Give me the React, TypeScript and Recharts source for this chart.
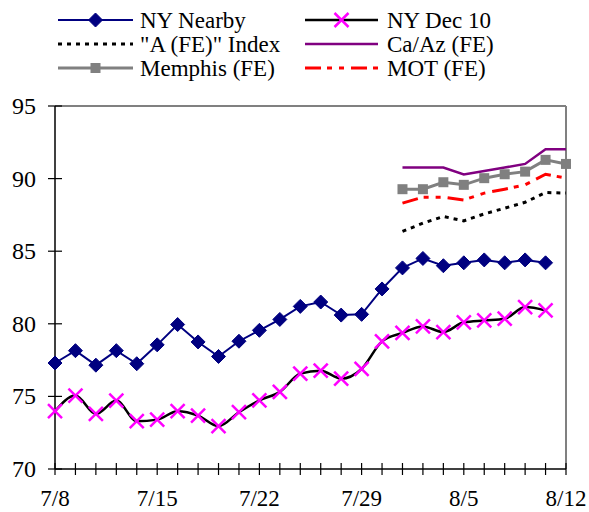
import React from "react";
import { LineChart, Line, XAxis, YAxis, ReferenceLine } from "recharts";

// weekday dates, 7/8 to 8/12
const dates = [
  "7/8", "7/9", "7/10", "7/11", "7/12",
  "7/15", "7/16", "7/17", "7/18", "7/19",
  "7/22", "7/23", "7/24", "7/25", "7/26",
  "7/29", "7/30", "7/31", "8/1", "8/2",
  "8/5", "8/6", "8/7", "8/8", "8/9",
  "8/12",
];
const xLabels = ["7/8", "7/15", "7/22", "7/29", "8/5", "8/12"];
const yTicks = [70, 75, 80, 85, 90, 95];

const nyNearby = [
  77.3, 78.15, 77.15, 78.15, 77.25, 78.55, 79.95, 78.75, 77.75, 78.8,
  79.55, 80.3, 81.2, 81.5, 80.6, 80.65, 82.4, 83.85, 84.5, 84.0,
  84.2, 84.4, 84.2, 84.4, 84.2, null,
];
const nyDec10 = [
  73.98, 75.06, 73.79, 74.71, 73.29, 73.4, 73.98, 73.68, 72.95, 73.91,
  74.73, 75.31, 76.57, 76.77, 76.22, 76.89, 78.79, 79.37, 79.82, 79.43,
  80.1, 80.23, 80.35, 81.15, 80.92, null,
];
const aIndex = [
  null, null, null, null, null, null, null, null, null, null,
  null, null, null, null, null, null, null, 86.36, 86.93, 87.39,
  87.09, 87.57, 87.96, 88.37, 89.04, 89.0,
];
const caAz = [
  null, null, null, null, null, null, null, null, null, null,
  null, null, null, null, null, null, null, 90.76, 90.76, 90.76,
  90.28, 90.52, 90.76, 91.01, 92.02, 92.02,
];
const memphis = [
  null, null, null, null, null, null, null, null, null, null,
  null, null, null, null, null, null, null, 89.27, 89.27, 89.75,
  89.57, 90.03, 90.3, 90.48, 91.29, 91.01,
];
const mot = [
  null, null, null, null, null, null, null, null, null, null,
  null, null, null, null, null, null, null, 88.31, 88.72, 88.72,
  88.53, 89.0, 89.27, 89.57, 90.3, 90.03,
];

const data = dates.map((d, i) => ({
  date: d,
  nyNearby: nyNearby[i],
  nyDec10: nyDec10[i],
  aIndex: aIndex[i],
  caAz: caAz[i],
  memphis: memphis[i],
  mot: mot[i],
}));

const FONT = "'Liberation Serif', 'Times New Roman', serif";
const NAVY = "#000080";
const MAGENTA = "#FF00FF";
const PURPLE = "#800080";
const GRAY = "#808080";
const RED = "#FF0000";
const A_DASH = "4 5";
const MOT_DASH = "16 6 5 7 5 7";

const Diamond = ({ cx, cy, r = 7 }: any) => (
  <polygon points={`${cx},${cy - r} ${cx + r},${cy} ${cx},${cy + r} ${cx - r},${cy}`} fill={NAVY} stroke={NAVY} strokeWidth={1} />
);
const Cross = ({ cx, cy, r = 7 }: any) => (
  <g stroke={MAGENTA} strokeWidth={2.5}>
    <line x1={cx - r} y1={cy - r} x2={cx + r} y2={cy + r} />
    <line x1={cx - r} y1={cy + r} x2={cx + r} y2={cy - r} />
  </g>
);
const Square = ({ cx, cy, r = 5 }: any) => (
  <rect x={cx - r} y={cy - r} width={2 * r} height={2 * r} fill={GRAY} />
);

const dotFn = (Shape: any) => (props: any) => {
  const { cx, cy, value, index } = props;
  if (value == null || cx == null || cy == null) return <g key={index} />;
  return <Shape key={index} cx={cx} cy={cy} />;
};

const XTick = ({ x, y, payload }: any) => (
  <g>
    <line x1={x} x2={x} y1={y - 6} y2={y + 6} stroke="#000" strokeWidth={1.2} />
    {xLabels.includes(payload.value) && (
      <text x={x} y={y + 37} textAnchor="middle" fontFamily={FONT} fontSize={23} fill="#000">
        {payload.value}
      </text>
    )}
  </g>
);

const YTick = ({ x, y, payload }: any) => (
  <g>
    <line x1={x - 7} x2={x + 7} y1={y} y2={y} stroke="#000" strokeWidth={1.2} />
    <text x={x - 19} y={y + 8} textAnchor="end" fontFamily={FONT} fontSize={24} fill="#000">
      {payload.value}
    </text>
  </g>
);

const legendItems = [
  { label: "NY Nearby", col: 0, row: 0, stroke: NAVY, width: 2, Shape: Diamond, dash: undefined },
  { label: "NY Dec 10", col: 1, row: 0, stroke: "#000", width: 2.5, Shape: Cross, dash: undefined },
  { label: "\"A (FE)\" Index", col: 0, row: 1, stroke: "#000", width: 3, Shape: null, dash: A_DASH },
  { label: "Ca/Az (FE)", col: 1, row: 1, stroke: PURPLE, width: 2.5, Shape: null, dash: undefined },
  { label: "Memphis (FE)", col: 0, row: 2, stroke: GRAY, width: 3, Shape: Square, dash: undefined },
  { label: "MOT (FE)", col: 1, row: 2, stroke: RED, width: 3, Shape: null, dash: MOT_DASH },
];

function ChartLegend() {
  const cols = [{ x1: 58, x2: 133, tx: 140 }, { x1: 305, x2: 378, tx: 387 }];
  const rows = [20, 44, 68];
  return (
    <svg width={589} height={90} style={{ position: "absolute", left: 0, top: 0 }}>
      {legendItems.map((it) => {
        const c = cols[it.col];
        const y = rows[it.row];
        const S = it.Shape;
        return (
          <g key={it.label}>
            <line x1={c.x1} x2={c.x2} y1={y} y2={y} stroke={it.stroke} strokeWidth={it.width} strokeDasharray={it.dash} />
            {S && <S cx={(c.x1 + c.x2) / 2} cy={y} r={S === Square ? 5 : 7} />}
            <text x={c.tx} y={y + 8} fontFamily={FONT} fontSize={23} fill="#000">
              {it.label}
            </text>
          </g>
        );
      })}
    </svg>
  );
}

export default function App() {
  return (
    <div style={{ position: "absolute", left: 0, top: 0, width: 589, height: 512, background: "#fff" }}>
      <LineChart width={589} height={512} data={data} margin={{ top: 106, right: 23, left: 0, bottom: 0 }}>
        <XAxis
          dataKey="date"
          interval={0}
          height={43}
          tickLine={false}
          tickSize={0}
          tickMargin={0}
          axisLine={{ stroke: "#000", strokeWidth: 1.5 }}
          tick={XTick}
        />
        <YAxis
          type="number"
          domain={[70, 95]}
          ticks={yTicks}
          width={55}
          tickLine={false}
          tickSize={0}
          tickMargin={0}
          axisLine={{ stroke: "#000", strokeWidth: 1.5 }}
          tick={YTick}
        />
        <ReferenceLine y={95} stroke={GRAY} strokeWidth={2} />
        <ReferenceLine x="8/12" stroke={GRAY} strokeWidth={2} />
        <Line dataKey="nyNearby" stroke={NAVY} strokeWidth={2} dot={dotFn(Diamond)} isAnimationActive={false} />
        <Line type="monotone" dataKey="nyDec10" stroke="#000" strokeWidth={2.5} dot={dotFn(Cross)} isAnimationActive={false} />
        <Line dataKey="aIndex" stroke="#000" strokeWidth={3} strokeDasharray={A_DASH} dot={false} isAnimationActive={false} />
        <Line dataKey="caAz" stroke={PURPLE} strokeWidth={2.5} dot={false} isAnimationActive={false} />
        <Line dataKey="memphis" stroke={GRAY} strokeWidth={3} dot={dotFn(Square)} isAnimationActive={false} />
        <Line dataKey="mot" stroke={RED} strokeWidth={3} strokeDasharray={MOT_DASH} dot={false} isAnimationActive={false} />
      </LineChart>
      <ChartLegend />
    </div>
  );
}
